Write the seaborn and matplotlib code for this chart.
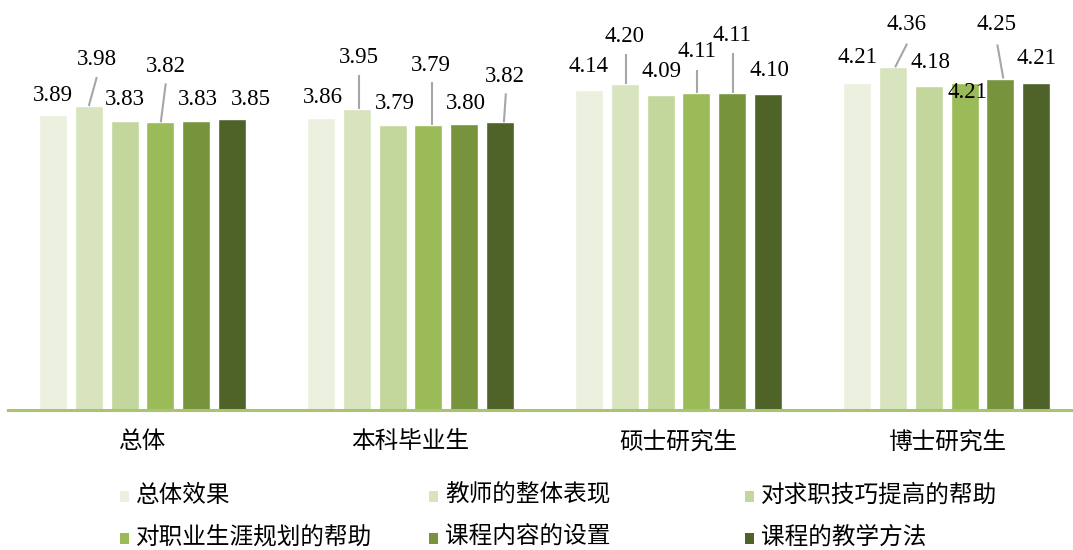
import numpy as np
import pandas as pd
import matplotlib
matplotlib.use("Agg")
import matplotlib.pyplot as plt
from matplotlib.patches import Rectangle
import seaborn as sns

# ---------------- data ----------------
groups = ['总体', '本科毕业生', '硕士研究生', '博士研究生']
series = ['总体效果', '教师的整体表现', '对求职技巧提高的帮助',
          '对职业生涯规划的帮助', '课程内容的设置', '课程的教学方法']
v_overall_effect = [3.89, 3.86, 4.14, 4.21]
v_teacher = [3.98, 3.95, 4.20, 4.36]
v_job_skill = [3.83, 3.79, 4.09, 4.18]
v_career_plan = [3.82, 3.79, 4.11, 4.21]
v_course_content = [3.83, 3.80, 4.11, 4.25]
v_teaching_method = [3.85, 3.82, 4.10, 4.21]
all_values = [v_overall_effect, v_teacher, v_job_skill,
              v_career_plan, v_course_content, v_teaching_method]

colors = ['#EBF1DE', '#D7E4BD', '#C3D69B', '#9BBB59', '#77933C', '#4F6228']

# label offsets in pixels (dx, dy; dy image-down) relative to bar top centre
label_off = [
    [(0, -20), (8, -46.5), (0.7, -22), (5.5, -56), (2.3, -22), (19, -20)],
    [(2, -21), (1.8, -51.5), (2.6, -22), (2.4, -60), (2.2, -21), (5, -46)],
    [(-0.5, -23), (-0.2, -47.5), (0.6, -23), (0.4, -41), (0.2, -57), (1, -23)],
    [(-0.3, -24.6), (13.5, -43), (1.3, -23), (3.1, 10), (-4.1, -54), (0.7, -24)],
]
# leader lines: (group, series, x0, y0, x1, y1) in pixel offsets
leaders = [
    (0, 1, 8, -29, 0, 0), (0, 3, 5.5, -39, 0.5, 0),
    (1, 1, 1.8, -34, 1.8, 0), (1, 3, 3.4, -43, 3.4, 0), (1, 5, 6, -29, 4, 0),
    (2, 1, 0.8, -30, 0.8, 0), (2, 3, 0.4, -23, 0.4, 0), (2, 4, 1.2, -40, 1.2, 0),
    (3, 1, 14, -23.6, 2, 0), (3, 4, -3, -34, 3, 0),
]

rows = []
for s, vals in zip(series, all_values):
    for g, v in zip(groups, vals):
        rows.append({'group': g, 'series': s, 'value': v})
df = pd.DataFrame(rows)

# ---------------- style ----------------
sns.set_style("white")
cjk = ['Noto Sans CJK SC', 'DejaVu Sans']
plt.rcParams['font.family'] = cjk

W, H = 1073, 550
fig = plt.figure(figsize=(W / 100, H / 100), dpi=100)
ax = fig.add_axes([8.35 / W, 140 / H, 1072.4 / W, 408 / H])

sns.barplot(data=df, x='group', y='value', hue='series', order=groups,
            hue_order=series, palette=colors, width=0.80, gap=0.216,
            saturation=1, legend=False, ax=ax, errorbar=None)

ax.set_ylim(1, 5)
ax.set_xlim(-0.5, 3.5)
ax.set_xlabel('')
ax.set_ylabel('')
ax.set_yticks([])
for sp in ['top', 'left', 'right']:
    ax.spines[sp].set_visible(False)
ax.spines['bottom'].set_color('#A9C470')
ax.spines['bottom'].set_linewidth(2.2)
ax.tick_params(axis='x', length=0, pad=14.5, labelsize=17, labelcolor='#000000')
for t in ax.get_xticklabels():
    t.set_family(cjk)

# ---------------- value labels ----------------
bars = sorted(ax.patches, key=lambda p: p.get_x())
for i, p in enumerate(bars):
    g, j = divmod(i, 6)
    cx = p.get_x() + p.get_width() / 2
    top = p.get_height()
    dx, dy = label_off[g][j]
    ax.annotate(f"{top:.2f}", xy=(cx, top), xytext=(dx, -dy),
                textcoords='offset pixels', ha='center', va='center',
                fontsize=16.5, family='Liberation Serif', color='#000000',
                annotation_clip=False)

inv = ax.transData.inverted()
for g, j, x0, y0, x1, y1 in leaders:
    p = bars[g * 6 + j]
    cx = p.get_x() + p.get_width() / 2
    top = p.get_height()
    px, py = ax.transData.transform((cx, top))
    a = inv.transform((px + x0, py - y0))
    b = inv.transform((px + x1, py - y1))
    ax.plot([a[0], b[0]], [a[1], b[1]], color='#A6A6A6', lw=1.5,
            solid_capstyle='butt', clip_on=False, zorder=3)

# ---------------- legend (manual, Excel-like layout) ----------------
col_x = [124, 433, 749]
row_y = [495, 537]
for k, (s, c) in enumerate(zip(series, colors)):
    r, cidx = divmod(k, 3)
    mx = col_x[cidx]
    my = row_y[r]
    fig.add_artist(Rectangle(((mx - 4) / W, (H - my - 7) / H), 9 / W, 11 / H,
                             transform=fig.transFigure, facecolor=c,
                             edgecolor='none'))
    fig.text((mx + 12) / W, (H - my) / H, s, ha='left', va='center',
             fontsize=17, family=cjk, color='#000000')

fig.savefig('out.png', dpi=100)
